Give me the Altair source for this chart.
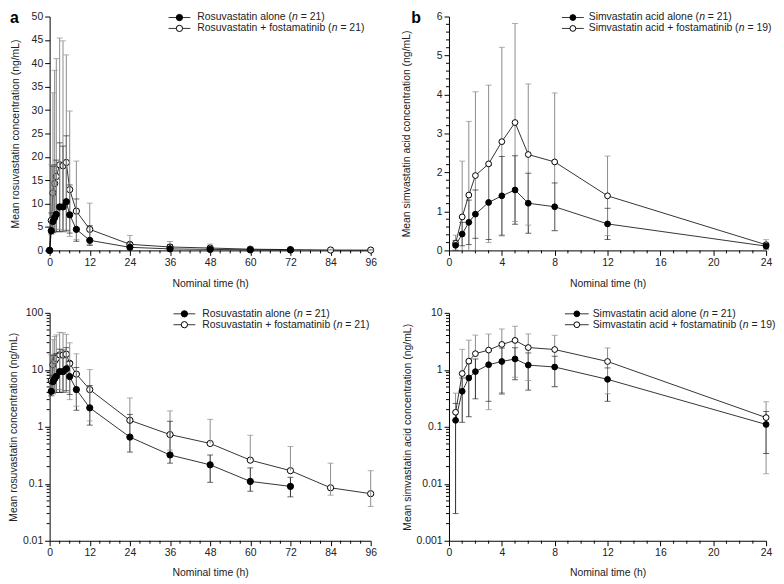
import altair as alt
import pandas as pd

FONT = "Liberation Sans"
FS = 10.5

# ---------------- data ----------------
# Rosuvastatin (panel a)
ROS_T_ALONE = [0, 0.5, 1, 1.5, 2, 3, 4, 5, 6, 8, 12, 24, 36, 48, 60, 72]
ROS_M_ALONE = [0, 4.2, 6.2, 7.0, 7.7, 9.3, 9.3, 10.4, 7.6, 4.5, 2.15, 0.66, 0.32, 0.215, 0.11, 0.09]
ROS_HI_ALONE = [None, 8.0, 18.0, 18.3, 19.3, 23.0, 22.3, 24.5, 14.0, 11.0, 5.3, 1.65, 1.25, 0.32, 0.19, 0.13]
ROS_LO_ALONE = [None, 3.5, 3.8, 4.0, 4.0, 4.0, 4.0, 4.3, 3.7, 1.95, 1.07, 0.36, 0.23, 0.106, 0.074, 0.059]

ROS_T_FOSTA = [0, 0.5, 1, 1.5, 2, 3, 4, 5, 6, 8, 12, 24, 36, 48, 60, 72, 84, 96]
ROS_M_FOSTA = [0, 6.4, 12.3, 14.3, 15.8, 18.3, 18.1, 18.8, 13.0, 8.4, 4.5, 1.3, 0.73, 0.51, 0.26, 0.17, 0.085, 0.067]
ROS_HI_FOSTA = [None, 18.3, 33.7, 38.5, 41.0, 45.4, 44.8, 41.8, 29.8, 19.1, 10.1, 3.2, 1.9, 1.35, 0.71, 0.45, 0.23, 0.17]
ROS_LO_FOSTA = [None, 4.0, 4.0, 4.2, 4.5, 4.5, 4.2, 4.0, 3.0, 2.3, 1.27, None, 0.39, None, None, None, 0.063, 0.04]

# Simvastatin acid (panel b): mean and SD
SIM_T = [0.5, 1, 1.5, 2, 3, 4, 5, 6, 8, 12, 24]
SIM_M_ALONE = [0.13, 0.42, 0.72, 0.93, 1.23, 1.40, 1.55, 1.21, 1.12, 0.68, 0.11]
SIM_SD_ALONE = [0.127, 0.30, 0.57, 0.62, 0.95, 1.01, 0.88, 0.77, 0.61, 0.40, 0.076]
SIM_M_FOSTA = [0.18, 0.86, 1.42, 1.92, 2.22, 2.79, 3.28, 2.46, 2.27, 1.40, 0.145]
SIM_SD_FOSTA = [0.21, 1.43, 1.89, 2.15, 2.02, 2.42, 2.54, 1.81, 1.77, 1.02, 0.13]

ROS_XTICKS = [0, 12, 24, 36, 48, 60, 72, 84, 96]
SIM_XTICKS = [0, 4, 8, 12, 16, 20, 24]
ROS_YTICKS_LIN = [0, 5, 10, 15, 20, 25, 30, 35, 40, 45, 50]
SIM_YTICKS_LIN = [0, 1, 2, 3, 4, 5, 6]
ROS_YTICKS_LOG = [0.01, 0.1, 1, 10, 100]
SIM_YTICKS_LOG = [0.001, 0.01, 0.1, 1, 10]

LEG_ROS = [("Rosuvastatin alone (", "= 21)", "black"),
           ("Rosuvastatin + fostamatinib (", "= 21)", "white")]
LEG_SIM = [("Simvastatin acid alone (", "= 21)", "black"),
           ("Simvastatin acid + fostamatinib (", "= 19)", "white")]

YT_ROS = "Mean rosuvastatin concentration (ng/mL)"
YT_SIM = "Mean simvastatin acid concentration (ng/mL)"
XT = "Nominal time (h)"

# ---------------- helpers ----------------
AW = {' ': 278, '(': 333, ')': 333, '+': 584, '=': 584, '1': 556, '2': 556, '9': 556,
      'R': 722, 'S': 667, 'a': 556, 'b': 556, 'c': 500, 'd': 556, 'e': 556, 'f': 278,
      'i': 222, 'l': 222, 'm': 833, 'n': 556, 'o': 556, 's': 500, 't': 278, 'u': 556, 'v': 500}


def tw(s, fs=FS):
    return sum(AW.get(c, 556) for c in s) * fs / 1000.0


def rows(t, m, lo, hi, series, log):
    out = []
    for ti, mi, li, hv in zip(t, m, lo, hi):
        if log and mi <= 0:
            continue
        bar = hv is not None
        if li is None:
            lo_end, cap = mi, False
        elif li <= 0:
            lo_end, cap = (mi if log else 0.0), False
        else:
            lo_end, cap = li, True
        out.append(dict(t=ti, mean=mi, lo=lo_end, hi=(hv if bar else mi),
                        bar=bar, cap=cap, series=series))
    return out


def ros_df(log):
    r = rows(ROS_T_ALONE, ROS_M_ALONE, ROS_LO_ALONE, ROS_HI_ALONE, "alone", log)
    r += rows(ROS_T_FOSTA, ROS_M_FOSTA, ROS_LO_FOSTA, ROS_HI_FOSTA, "fosta", log)
    return pd.DataFrame(r)


def sim_df(log):
    lo_a = [round(a - b, 4) for a, b in zip(SIM_M_ALONE, SIM_SD_ALONE)]
    hi_a = [round(a + b, 4) for a, b in zip(SIM_M_ALONE, SIM_SD_ALONE)]
    lo_f = [round(a - b, 4) for a, b in zip(SIM_M_FOSTA, SIM_SD_FOSTA)]
    hi_f = [round(a + b, 4) for a, b in zip(SIM_M_FOSTA, SIM_SD_FOSTA)]
    r = rows(SIM_T, SIM_M_ALONE, lo_a, hi_a, "alone", log)
    r += rows(SIM_T, SIM_M_FOSTA, lo_f, hi_f, "fosta", log)
    return pd.DataFrame(r)


ONE = pd.DataFrame({"k": [0]})
BAR_COL = alt.Scale(domain=["alone", "fosta"], range=["#2a2a2a", "#8c8c8c"])


def panel(df, width, height, xdom, xticks, xminor, ydom, yticks, yminor, ylog,
          ytitle, ytitle_x, letter, letter_x, legend, leg_x1, leg_x2, leg_xt,
          psize, bars_over_open, xtitle_y):
    xs = alt.Scale(domain=xdom, nice=False, zero=False)
    if ylog:
        ys = alt.Scale(type="log", domain=ydom, nice=False)
    else:
        ys = alt.Scale(domain=ydom, nice=False, zero=True)
    xaxis = alt.Axis(values=xticks, title=XT, titleX=width / 2, titleY=xtitle_y,
                     titleBaseline="middle", titleAlign="center", labelFlush=False,
                     labelOverlap=False)
    yaxis = alt.Axis(values=yticks, title=ytitle, titleX=ytitle_x, titleY=height / 2,
                     titleAngle=270, titleBaseline="middle", titleAlign="center",
                     labelFlush=False, labelOverlap=False,
                     format="~g" if ylog else "d")
    base = alt.Chart(df)

    def X(f="t"):
        return alt.X(f"{f}:Q", scale=xs, axis=xaxis)

    def Y(f):
        return alt.Y(f"{f}:Q", scale=ys, axis=yaxis)

    lines = base.mark_line(color="black", strokeWidth=0.8).encode(
        x=X(), y=Y("mean"), detail="series:N")
    bars_df = base.transform_filter("datum.bar")
    bars = bars_df.mark_rule(strokeWidth=1).encode(
        x=X(), y=Y("lo"), y2="hi:Q",
        color=alt.Color("series:N", scale=BAR_COL, legend=None))
    cap_hi = bars_df.mark_tick(orient="horizontal", size=6, thickness=1).encode(
        x=X(), y=Y("hi"),
        color=alt.Color("series:N", scale=BAR_COL, legend=None))
    cap_lo = base.transform_filter("datum.bar && datum.cap").mark_tick(
        orient="horizontal", size=6, thickness=1).encode(
        x=X(), y=Y("lo"),
        color=alt.Color("series:N", scale=BAR_COL, legend=None))
    open_pts = base.transform_filter("datum.series == 'fosta'").mark_point(
        shape="circle", filled=True, fill="white", stroke="black", strokeWidth=1,
        size=psize, opacity=1).encode(x=X(), y=Y("mean"))
    fill_pts = base.transform_filter("datum.series == 'alone'").mark_point(
        shape="circle", filled=True, fill="black", stroke="black", strokeWidth=1,
        size=psize, opacity=1).encode(x=X(), y=Y("mean"))

    xmin = alt.Chart(pd.DataFrame({"v": xminor})).mark_rule(
        color="black", strokeWidth=1).encode(
        x=X("v"), y=alt.value(height), y2=alt.value(height + 3))
    layers = [xmin]
    if yminor:
        ymin = alt.Chart(pd.DataFrame({"v": yminor})).mark_rule(
            color="black", strokeWidth=1).encode(
            y=Y("v"), x=alt.value(0), x2=alt.value(-3))
        layers.append(ymin)

    if bars_over_open:
        layers = [lines] + layers + [open_pts, bars, cap_hi, cap_lo, fill_pts]
    else:
        layers = [lines] + layers + [bars, cap_hi, cap_lo, open_pts, fill_pts]

    # legend
    xp = (leg_x1 + leg_x2) / 2
    for (pre, suf, fill), yrow in zip(legend, [1, 12]):
        layers.append(alt.Chart(ONE).mark_rule(color="black", strokeWidth=0.8).encode(
            x=alt.value(leg_x1), x2=alt.value(leg_x2), y=alt.value(yrow)))
        layers.append(alt.Chart(ONE).mark_point(
            shape="circle", filled=True, fill=fill, stroke="black", strokeWidth=1,
            size=psize, opacity=1).encode(x=alt.value(xp), y=alt.value(yrow)))
        tkw = dict(align="left", baseline="middle", font=FONT, fontSize=FS, color="#222222")
        layers.append(alt.Chart(ONE).mark_text(text=pre, **tkw).encode(
            x=alt.value(leg_xt), y=alt.value(yrow)))
        layers.append(alt.Chart(ONE).mark_text(text="n", fontStyle="italic", **tkw).encode(
            x=alt.value(leg_xt + tw(pre)), y=alt.value(yrow)))
        layers.append(alt.Chart(ONE).mark_text(text=suf, **tkw).encode(
            x=alt.value(leg_xt + tw(pre) + tw("n ")), y=alt.value(yrow)))

    if letter:
        layers.append(alt.Chart(ONE).mark_text(
            text=letter, align="left", baseline="top", font=FONT, fontSize=16,
            fontWeight="bold", color="black").encode(x=alt.value(letter_x), y=alt.value(-6)))

    return alt.layer(*layers).properties(width=width, height=height)


ros_minor = [v for v in range(3, 96, 3) if v % 12 != 0]
sim_minor = [v for v in range(1, 24) if v % 4 != 0]
sim_yminor = [round(i * 0.2, 1) for i in range(1, 30) if i % 5 != 0]


def log_minor(lo_exp, hi_exp):
    out = []
    for e in range(lo_exp, hi_exp):
        for k in range(2, 10):
            out.append(float(f"{k}e{e}"))
    return out


WL, WR, HT, HB = 324, 320, 236, 230

p1 = panel(ros_df(False), WL, HT, [0, 96], ROS_XTICKS, ros_minor, [0, 50], ROS_YTICKS_LIN,
           None, False, YT_ROS, -34.5, "a", -40, LEG_ROS, 120, 142, 149, 40, True, 33)
p2 = panel(sim_df(False), WR, HT, [0, 24], SIM_XTICKS, sim_minor, [0, 6], SIM_YTICKS_LIN,
           sim_yminor, False, YT_SIM, -43, "b", -38, LEG_SIM, 114, 136, 141, 34, False, 33)
p3 = panel(ros_df(True), WL, HB, [0, 96], ROS_XTICKS, ros_minor, [0.01, 100], ROS_YTICKS_LOG,
           log_minor(-2, 2), True, YT_ROS, -36, None, 0, LEG_ROS, 125, 147, 154, 40, True, 32)
p4 = panel(sim_df(True), WR, HB, [0, 24], SIM_XTICKS, sim_minor, [0.001, 10], SIM_YTICKS_LOG,
           log_minor(-3, 1), True, YT_SIM, -42, None, 0, LEG_SIM, 117, 141, 145, 34, False, 32)

chart = alt.concat(p1, p2, p3, p4, columns=2, spacing={"row": 63, "column": 79},
                   bounds="flush").properties(padding=0).configure_view(
    stroke=None).configure_axis(
    labelFont=FONT, labelFontSize=FS, labelColor="#222222", titleFont=FONT,
    titleFontSize=FS, titleFontWeight="normal", titleColor="#222222",
    domainColor="black", tickColor="black", tickSize=5, labelPadding=2,
    grid=False, domainWidth=1, tickWidth=1)

chart.save("out.html", embed_options={"renderer": "svg", "actions": False})
